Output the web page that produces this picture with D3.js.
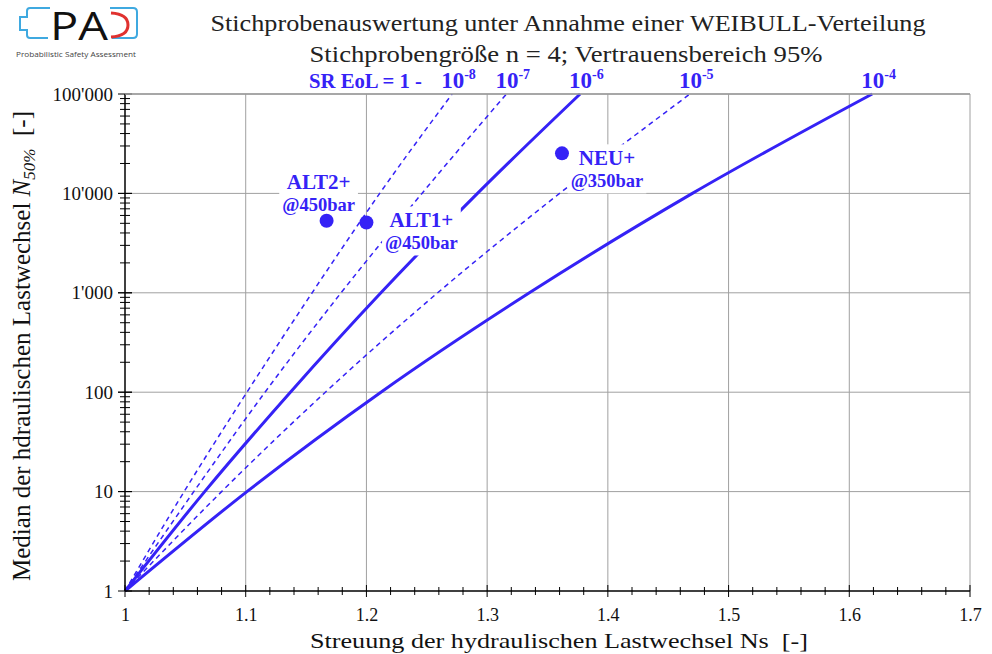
<!DOCTYPE html>
<html><head><meta charset="utf-8">
<script src="https://cdn.jsdelivr.net/npm/d3@7"></script>
<style>
html,body{margin:0;padding:0;background:#fff;}
svg{display:block;font-family:"Liberation Serif","Times New Roman",serif;}
</style></head>
<body><svg id="c" width="992" height="654"></svg>
<script>
// ---------- data ----------
const decadeN = [1, 10, 100, 1000, 10000, 100000];
const seriesExp = ["-8", "-7", "-6", "-5", "-4"];
const seriesDashed = [true, true, false, true, false];
// Ns at which each curve crosses N = 1, 10, 100, 1'000, 10'000, 100'000
const ns_m8 = [1, 1.049, 1.101, 1.155, 1.211, 1.271];
const ns_m7 = [1, 1.057, 1.116, 1.179, 1.246, 1.316];
const ns_m6 = [1, 1.066, 1.137, 1.212, 1.292, 1.377];
const ns_m5 = [1, 1.080, 1.166, 1.259, 1.360, 1.468];
const ns_m4 = [1, 1.101, 1.212, 1.335, 1.470, 1.619];
const seriesNs = [ns_m8, ns_m7, ns_m6, ns_m5, ns_m4];

const pointNames = ["ALT2+", "ALT1+", "NEU+"];
const pointSubs = ["@450bar", "@450bar", "@350bar"];
const pointNs = [1.167, 1.200, 1.362];
const pointN = [5300, 5100, 25300];

const xTicks = [1, 1.1, 1.2, 1.3, 1.4, 1.5, 1.6, 1.7];
const yTicks = [1, 10, 100, 1000, 10000, 100000];

// ---------- layout ----------
const blue = "#3522f6";
const labelOffsets = [[-8, -32], [55, 5], [45, 12]]; // label centre / baseline relative to dot
const svg = d3.select("#c");
const x = d3.scaleLinear().domain([1, 1.7]).range([125, 970]);
const y = d3.scaleLog().domain([1, 100000]).range([591, 94]);

// grid
const grid = svg.append("g").attr("stroke", "#a0a0a0").attr("stroke-width", 1);
xTicks.slice(1).forEach(v => grid.append("line")
  .attr("x1", x(v)).attr("x2", x(v)).attr("y1", y(1)).attr("y2", y(100000)));
yTicks.slice(1).forEach(v => grid.append("line")
  .attr("x1", x(1)).attr("x2", x(1.7)).attr("y1", y(v)).attr("y2", y(v)));

// curves
const line = d3.line().x(d => x(d[0])).y(d => y(d[1])).curve(d3.curveMonotoneX);
const curves = svg.append("g");
seriesNs.forEach((arr, i) => {
  const pts = arr.map((v, j) => [v, decadeN[j]]);
  curves.append("path").attr("d", line(pts)).attr("fill", "none")
    .attr("stroke", blue)
    .attr("stroke-width", seriesDashed[i] ? 1.5 : 3)
    .attr("stroke-dasharray", seriesDashed[i] ? "5,4" : null);
});

// axes lines and ticks
const ax = svg.append("g").attr("stroke", "#000");
ax.append("line").attr("x1", x(1)).attr("x2", x(1.7)).attr("y1", y(1)).attr("y2", y(1)).attr("stroke-width", 1.5);
ax.append("line").attr("x1", x(1)).attr("x2", x(1)).attr("y1", y(1)).attr("y2", y(100000)).attr("stroke-width", 1.5);
d3.range(0, 36).forEach(i => {
  const v = 1 + i * 0.02;
  const major = i % 5 === 0;
  const h = major ? 6 : 4;
  ax.append("line").attr("x1", x(v)).attr("x2", x(v)).attr("y1", y(1) - h).attr("y2", y(1) + h);
});
for (let k = 0; k < 5; k++) {
  for (let m = 1; m <= 10; m++) {
    const v = m * Math.pow(10, k);
    const major = (m === 1 || m === 10);
    const h = major ? 7 : 5;
    ax.append("line").attr("x1", x(1) - h).attr("x2", x(1) + h).attr("y1", y(v)).attr("y2", y(v));
  }
}
// top frame
svg.append("line").attr("x1", x(1)).attr("x2", x(1.7)).attr("y1", y(100000)).attr("y2", y(100000)).attr("stroke", "#9a9a9a").attr("stroke-width", 1.5);

// tick labels via d3 axes
const xa = svg.append("g").attr("transform", `translate(0,${y(1)})`)
  .call(d3.axisBottom(x).tickValues(xTicks).tickSize(0).tickPadding(17)
    .tickFormat(d => d === 1 ? "1" : d3.format(".1f")(d)));
xa.select(".domain").remove();
xa.selectAll("text").attr("font-size", 18).attr("font-family", "Liberation Serif").attr("fill", "#111");
const ya = svg.append("g").attr("transform", `translate(${x(1)},0)`)
  .call(d3.axisLeft(y).tickValues(yTicks).tickSize(0).tickPadding(12)
    .tickFormat(d => d3.format(",")(d).replace(/,/g, "'")));
ya.select(".domain").remove();
ya.selectAll("text").attr("font-size", 19).attr("font-family", "Liberation Serif").attr("fill", "#111");

// axis titles
svg.append("text").attr("x", 559).attr("y", 648).attr("text-anchor", "middle")
  .attr("font-size", 22).attr("fill", "#111")
  .attr("textLength", 498).attr("lengthAdjust", "spacingAndGlyphs")
  .text("Streuung der hydraulischen Lastwechsel Ns\u00a0\u00a0[-]");
const yl = svg.append("text").attr("transform", "translate(30,346) rotate(-90)")
  .attr("text-anchor", "middle").attr("font-size", 25).attr("fill", "#111");
yl.append("tspan").text("Median der hdraulischen Lastwechsel ");
yl.append("tspan").attr("font-style", "italic").text("N");
yl.append("tspan").attr("font-style", "italic").attr("font-size", 17).attr("dy", 5).text("50%");
yl.append("tspan").attr("dy", -5).text("\u00a0\u00a0[-]");

// titles
svg.append("text").attr("x", 568).attr("y", 31).attr("text-anchor", "middle")
  .attr("font-size", 23).attr("fill", "#222").attr("textLength", 715).attr("lengthAdjust", "spacingAndGlyphs")
  .text("Stichprobenauswertung unter Annahme einer WEIBULL-Verteilung");
svg.append("text").attr("x", 566).attr("y", 62).attr("text-anchor", "middle")
  .attr("font-size", 23).attr("fill", "#222").attr("textLength", 513).attr("lengthAdjust", "spacingAndGlyphs")
  .text("Stichprobengröße n = 4; Vertrauensbereich 95%");

// series header
const hdr = svg.append("g").attr("fill", blue).attr("font-weight", "bold");
hdr.append("text").attr("x", 309).attr("y", 88).attr("font-size", 22)
  .attr("textLength", 113).attr("lengthAdjust", "spacingAndGlyphs").text("SR EoL = 1 -");
seriesNs.forEach((arr, i) => {
  const t = hdr.append("text").attr("x", x(arr[arr.length - 1]) - 11).attr("y", 88).attr("font-size", 23);
  t.append("tspan").text("10");
  t.append("tspan").attr("font-size", 14).attr("dy", -9).text(seriesExp[i]);
});

// points
const pg = svg.append("g");
pointNs.forEach((v, i) => {
  const cx = x(v), cy = y(pointN[i]);
  const lx = cx + labelOffsets[i][0], ly = cy + labelOffsets[i][1];
  const g = pg.append("g");
  const bg = g.append("rect").attr("fill", "#fff");
  const t1 = g.append("text").attr("x", lx).attr("y", ly).attr("text-anchor", "middle")
    .attr("font-size", 21).attr("font-weight", "bold").attr("fill", blue).text(pointNames[i]);
  const t2 = g.append("text").attr("x", lx).attr("y", ly + 22).attr("text-anchor", "middle")
    .attr("font-size", 18.5).attr("font-weight", "bold").attr("fill", blue).text(pointSubs[i]);
  const b1 = t1.node().getBBox(), b2 = t2.node().getBBox();
  const x0 = Math.min(b1.x, b2.x) - 3, x1 = Math.max(b1.x + b1.width, b2.x + b2.width) + 3;
  const y0 = b1.y - 2, y1 = b2.y + b2.height + 2;
  bg.attr("x", x0).attr("y", y0).attr("width", x1 - x0).attr("height", y1 - y0);
  pg.append("circle").attr("cx", cx).attr("cy", cy).attr("r", 7).attr("fill", blue);
});

// logo
const lg = svg.append("g");
const lb = "#3fa9e0";
lg.append("path").attr("d", "M50,8 H30 Q27,8 27,11 V17 H20 V30 H27 V35 Q27,38 30,38 H48")
  .attr("fill", "none").attr("stroke", lb).attr("stroke-width", 2);
lg.append("path").attr("d", "M110,8 H133 Q137,8 137,12 V34 Q137,38 133,38 H112")
  .attr("fill", "none").attr("stroke", lb).attr("stroke-width", 2);
lg.append("text").attr("x", 79).attr("y", 40).attr("text-anchor", "middle")
  .attr("font-family", "Open Sans, DejaVu Sans, sans-serif").attr("font-size", 38).attr("fill", "#111")
  .attr("textLength", 58).attr("lengthAdjust", "spacingAndGlyphs")
  .text("PA");
lg.append("path").attr("d", "M111,13 Q128,14 128,25 Q128,36 111,37")
  .attr("fill", "none").attr("stroke", "#e0312f").attr("stroke-width", 3);
lg.append("text").attr("x", 76).attr("y", 57).attr("text-anchor", "middle")
  .attr("font-family", "Open Sans, DejaVu Sans, sans-serif").attr("font-size", 7.5).attr("fill", "#444")
  .attr("textLength", 120).attr("lengthAdjust", "spacingAndGlyphs")
  .text("Probabilistic Safety Assessment");
</script></body></html>
